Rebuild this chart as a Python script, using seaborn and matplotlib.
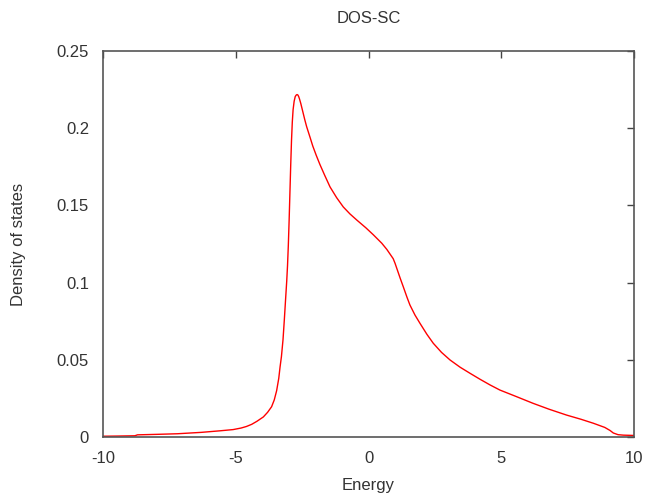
import matplotlib
matplotlib.use("Agg")
import matplotlib.pyplot as plt
import seaborn as sns
import pandas as pd

energy = [-10.0, -9.5, -8.8, -8.7, -8.0, -7.2, -6.3, -5.6, -5.1, -4.8, -4.6, -4.4,
          -4.2, -3.96, -3.8, -3.65, -3.55, -3.46, -3.38, -3.33, -3.28, -3.22, -3.17,
          -3.12, -3.08, -3.05, -3.02, -2.99, -2.96, -2.93, -2.9, -2.87, -2.84, -2.8,
          -2.76, -2.72, -2.69, -2.66, -2.63, -2.6, -2.55, -2.5, -2.45, -2.4, -2.33,
          -2.2, -2.1, -1.97, -1.83, -1.65, -1.45, -1.2, -0.95, -0.7, -0.44, -0.1,
          0.18, 0.5, 0.69, 0.81, 0.93, 1.0, 1.1, 1.19, 1.31, 1.45, 1.56, 1.75, 1.94,
          2.2, 2.44, 2.75, 3.07, 3.45, 3.82, 4.2, 4.58, 4.95, 5.58, 6.2, 6.8, 7.46,
          8.0, 8.47, 8.9, 9.1, 9.22, 9.4, 9.6, 10.0]
dos = [0.0005, 0.0006, 0.0008, 0.0014, 0.0017, 0.0021, 0.003, 0.004, 0.0048, 0.0058,
       0.0068, 0.0082, 0.0102, 0.013, 0.016, 0.0196, 0.024, 0.030, 0.038, 0.0455,
       0.052, 0.063, 0.076, 0.090, 0.101, 0.111, 0.124, 0.140, 0.158, 0.176, 0.192,
       0.204, 0.212, 0.2175, 0.2205, 0.2215, 0.2218, 0.2215, 0.2205, 0.219, 0.216,
       0.2125, 0.209, 0.2055, 0.201, 0.194, 0.1885, 0.1825, 0.1765, 0.1695, 0.162,
       0.155, 0.149, 0.1445, 0.1405, 0.1355, 0.131, 0.1255, 0.1215, 0.1185, 0.1155,
       0.1125, 0.1075, 0.103, 0.0973, 0.0905, 0.0855, 0.079, 0.0736, 0.0665, 0.0607,
       0.0548, 0.0499, 0.0452, 0.0413, 0.0374, 0.0337, 0.0304, 0.0261, 0.0218, 0.018,
       0.0142, 0.0115, 0.0089, 0.0062, 0.0042, 0.0026, 0.0015, 0.0012, 0.0010]

xticks = [-10, -5, 0, 5, 10]
yticks = [0, 0.05, 0.1, 0.15, 0.2, 0.25]
xtick_labels = ["-10", "-5", "0", "5", "10"]
ytick_labels = ["0", "0.05", "0.1", "0.15", "0.2", "0.25"]

df = pd.DataFrame({"Energy": energy, "DOS": dos})

sns.set_style("white")
plt.rcParams['font.family'] = ['Liberation Sans', 'DejaVu Sans']

fig = plt.figure(figsize=(6.47, 4.97), dpi=100)
ax = fig.add_axes([103/647, 60/497, 531/647, 386/497])
sns.lineplot(data=df, x="Energy", y="DOS", color="#ff0000", linewidth=1.0, ax=ax)

ax.set_xlim(-10, 10)
ax.set_ylim(0, 0.25)
ax.set_xticks(xticks)
ax.set_xticklabels(xtick_labels)
ax.set_yticks(yticks)
ax.set_yticklabels(ytick_labels)
tc = "#333333"
ax.tick_params(direction="in", length=5, width=1, colors="#444444",
               top=True, right=True, labelsize=12, labelcolor=tc)
ax.tick_params(axis="x", pad=10)
ax.tick_params(axis="y", pad=10)
for s in ax.spines.values():
    s.set_color("#555555")
    s.set_linewidth(1.2)
ax.set_xlabel("Energy", fontsize=12, color=tc, labelpad=9)
ax.set_ylabel("Density of states", fontsize=12, color=tc, labelpad=22)
ax.set_title("DOS-SC", fontsize=12, color=tc, pad=20)

fig.savefig("out.png", dpi=100)
